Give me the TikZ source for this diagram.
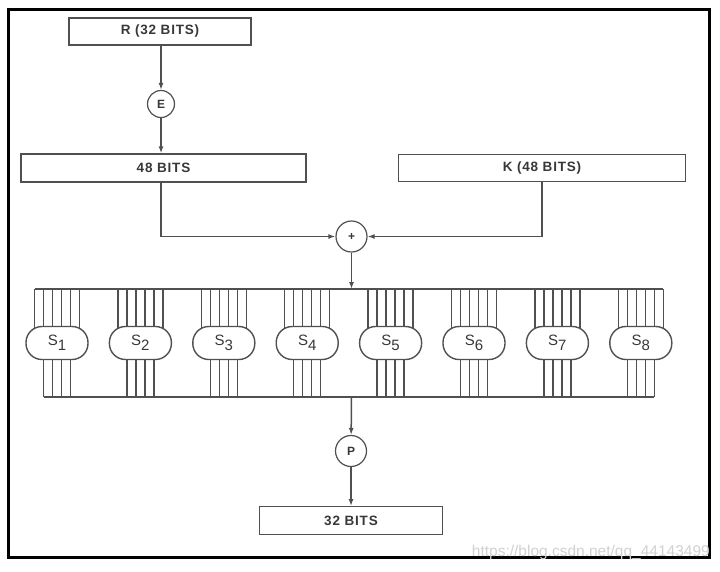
\documentclass[tikz,border=0pt]{standalone}
\usepackage{fontspec}
\setmainfont{Liberation Sans}[LetterSpace=6]
\newfontfamily\wmfont{Liberation Sans}
\usetikzlibrary{arrows.meta,backgrounds,calc}
\definecolor{linec}{HTML}{505050}
\definecolor{textc}{HTML}{383838}
\begin{document}
\begin{tikzpicture}[x=1pt,y=-1pt]
\tikzset{
 box/.style={draw=linec, line width=1.4pt, minimum height=27pt, inner sep=0pt, font=\fontsize{13.5}{13.5}\selectfont\bfseries, text=textc},
 circ/.style={circle, draw=linec, line width=1.2pt, minimum size=28pt, inner sep=0pt, font=\fontsize{12}{12}\selectfont\bfseries, text=textc},
 sbox/.style={draw=linec, line width=1.4pt, rounded corners=16pt, minimum width=62pt, minimum height=33pt, fill=white, inner sep=0pt, font=\fontsize{15}{15}\selectfont, text=textc},
 wire/.style={draw=linec, line width=1.4pt},
 arr/.style={draw=linec, line width=1.5pt, -{Latex[length=7pt,width=5pt]}},
}
\useasboundingbox (0,0) rectangle (720,571);
\node[box, minimum width=182pt] (R) at (160,31.5) {R (32 BITS)};
\node[circ, minimum size=27pt] (E) at (161,104) {E};
\node[box, minimum width=285pt, minimum height=28pt] (B48) at (163.5,168) {48 BITS};
\node[box, minimum width=287pt, minimum height=27pt] (K) at (542,168) {K (48 BITS)};
\node[circ, minimum size=31pt] (X) at (351.5,236.5) {+};
\coordinate (topbus) at (0,289);
\coordinate (botbus) at (0,397);
\foreach \i in {1,...,8}{
  \node[sbox] (S\i) at ({57+83.4*(\i-1)},343) {S\raisebox{-5pt}{\i}};
}
\node[circ, minimum size=31pt] (P) at (351,451) {P};
\node[box, minimum width=183pt, minimum height=27.5pt] (B32) at (351,520.5) {32 BITS};
\begin{pgfonlayer}{background}
\fill[white] (0,0) rectangle (720,571);
\foreach \i in {1,...,8}{
  \foreach \d in {-22.5,-13.5,-4.5,4.5,13.5,22.5}{
    \path (S\i.center) ++(\d,0) coordinate (w);
    \draw[wire] (w) -- (w |- topbus);
  }
  \foreach \d in {-13.5,-4.5,4.5,13.5}{
    \path (S\i.center) ++(\d,0) coordinate (w);
    \draw[wire] (w) -- (w |- botbus);
  }
}
\end{pgfonlayer}
\path (S1.center) ++(-22.5,0) coordinate (tl);
\path (S8.center) ++(22.5,0) coordinate (tr);
\path (S1.center) ++(-13.5,0) coordinate (bl);
\path (S8.center) ++(13.5,0) coordinate (br);
\draw[wire] (tl |- topbus) -- (tr |- topbus);
\draw[wire] (bl |- botbus) -- (br |- botbus);
\draw[arr] (E |- R.south) -- (E);
\draw[arr] (E) -- (E |- B48.north);
\draw[arr] (E |- B48.south) |- (X);
\draw[arr] (K.south) |- (X);
\draw[arr] (X) -- (X |- topbus);
\draw[arr] (X |- botbus) -- (P);
\draw[arr] (P) -- (B32);
\draw[black, line width=3pt] (8,9) rectangle (709,557);
\node[anchor=base east, text=black!18, font=\wmfont\fontsize{15.5}{15.5}\selectfont, inner sep=0pt] (wm) at (710,556) {https://blog.csdn.net/qq\_44143499};
\end{tikzpicture}
\end{document}
